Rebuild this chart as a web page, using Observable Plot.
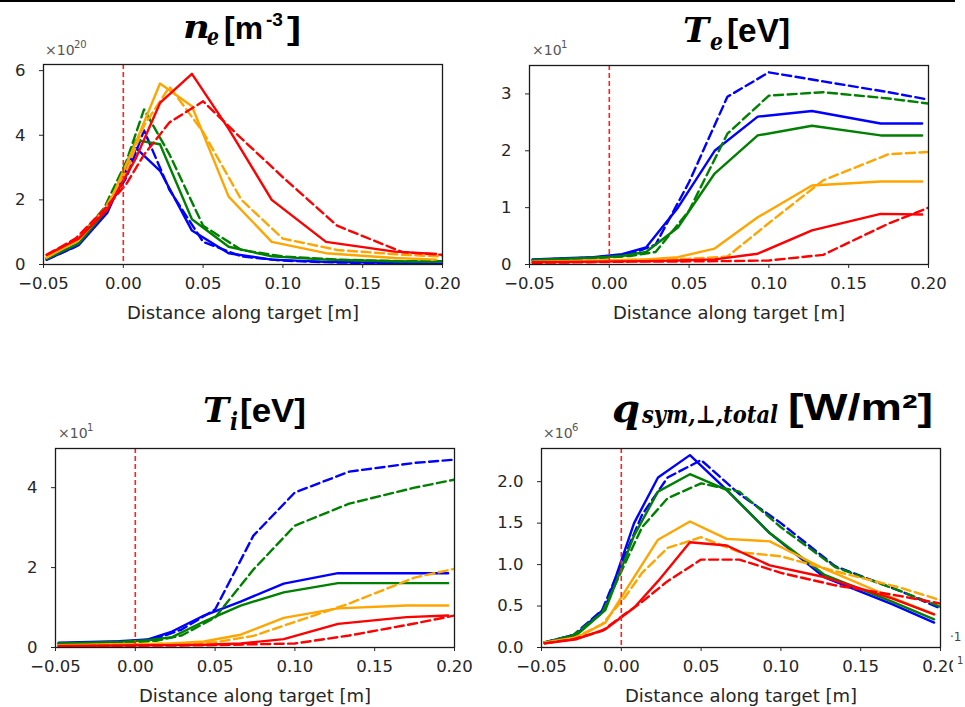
<!DOCTYPE html>
<html>
<head>
<meta charset="utf-8">
<script src="https://cdn.jsdelivr.net/npm/d3@7"></script>
<script src="https://cdn.jsdelivr.net/npm/@observablehq/plot@0.6"></script>
<style>
  html, body { margin: 0; padding: 0; background: #fff; }
  #root { position: relative; width: 965px; height: 707px; overflow: hidden; background: #fff; }
  .panel { position: absolute; overflow: hidden; }
  .panel svg { max-width: none !important; }
  #overlay { position: absolute; left: 0; top: 0; pointer-events: none; }
</style>
</head>
<body>
<div id="root"></div>
<script>
// ---------- shared x grids (distance along target, m) ----------
const xSolid  = [-0.048, -0.028, -0.010, 0.008, 0.023, 0.043, 0.066, 0.093, 0.127, 0.170, 0.196];
const xDashed = [-0.048, -0.030, -0.012, 0.002, 0.013, 0.029, 0.050, 0.074, 0.100, 0.134, 0.175, 0.200];
const xTicks = [-0.05, 0, 0.05, 0.10, 0.15, 0.20];
const colors = {blue: "#0000ff", green: "#008000", orange: "#ffa500", red: "#ff0000"};

// ---------- n_e  (x 1e20 m^-3) ----------
const neBlueSolid    = [0.15, 0.6, 1.6, 3.6, 2.9, 1.05, 0.35, 0.15, 0.08, 0.05, 0.04];
const neBlueDashed   = [0.15, 0.55, 1.55, 2.7, 4.15, 2.3, 0.7, 0.25, 0.12, 0.06, 0.04, 0.03];
const neGreenSolid   = [0.18, 0.65, 1.7, 3.85, 3.72, 1.4, 0.55, 0.25, 0.15, 0.1, 0.08];
const neGreenDashed  = [0.2, 0.7, 1.75, 3.2, 4.8, 3.4, 1.2, 0.45, 0.25, 0.15, 0.1, 0.1];
const neOrangeSolid  = [0.22, 0.75, 1.75, 3.8, 5.6, 4.9, 2.1, 0.7, 0.35, 0.2, 0.15];
const neOrangeDashed = [0.22, 0.75, 1.7, 2.9, 4.3, 5.5, 4.1, 2.0, 0.8, 0.45, 0.3, 0.25];
const neRedSolid     = [0.3, 0.8, 1.7, 3.3, 5.0, 5.9, 4.2, 2.0, 0.7, 0.4, 0.33];
const neRedDashed    = [0.3, 0.8, 1.7, 2.5, 3.4, 4.4, 5.05, 3.9, 2.7, 1.2, 0.38, 0.3];

// ---------- T_e  (x 10 eV) ----------
const teBlueSolid    = [0.09, 0.11, 0.13, 0.18, 0.3, 1.0, 2.0, 2.6, 2.7, 2.48, 2.48];
const teBlueDashed   = [0.08, 0.1, 0.12, 0.15, 0.18, 0.35, 1.45, 2.95, 3.38, 3.22, 3.03, 2.9];
const teGreenSolid   = [0.08, 0.1, 0.12, 0.15, 0.22, 0.65, 1.6, 2.27, 2.44, 2.27, 2.27];
const teGreenDashed  = [0.07, 0.09, 0.11, 0.13, 0.15, 0.22, 0.95, 2.3, 2.97, 3.03, 2.92, 2.83];
const teOrangeSolid  = [0.05, 0.06, 0.07, 0.08, 0.09, 0.13, 0.28, 0.83, 1.39, 1.46, 1.46];
const teOrangeDashed = [0.04, 0.05, 0.06, 0.07, 0.08, 0.09, 0.1, 0.14, 0.73, 1.48, 1.94, 1.98];
const teRedSolid     = [0.04, 0.045, 0.05, 0.055, 0.06, 0.07, 0.09, 0.19, 0.6, 0.89, 0.88];
const teRedDashed    = [0.03, 0.035, 0.04, 0.045, 0.05, 0.05, 0.055, 0.06, 0.07, 0.17, 0.72, 1.0];

// ---------- T_i  (x 10 eV) ----------
const tiBlueSolid    = [0.12, 0.14, 0.16, 0.2, 0.4, 0.8, 1.15, 1.6, 1.86, 1.86, 1.86];
const tiBlueDashed   = [0.1, 0.12, 0.14, 0.17, 0.22, 0.45, 0.95, 2.8, 3.88, 4.4, 4.62, 4.7];
const tiGreenSolid   = [0.1, 0.12, 0.14, 0.18, 0.26, 0.65, 1.05, 1.38, 1.61, 1.61, 1.61];
const tiGreenDashed  = [0.09, 0.1, 0.12, 0.14, 0.17, 0.3, 0.75, 1.95, 3.05, 3.6, 4.0, 4.2];
const tiOrangeSolid  = [0.06, 0.07, 0.08, 0.09, 0.1, 0.15, 0.32, 0.74, 0.98, 1.05, 1.05];
const tiOrangeDashed = [0.05, 0.06, 0.07, 0.08, 0.09, 0.1, 0.13, 0.29, 0.64, 1.1, 1.75, 1.97];
const tiRedSolid     = [0.04, 0.045, 0.05, 0.055, 0.06, 0.07, 0.1, 0.21, 0.59, 0.76, 0.8];
const tiRedDashed    = [0.03, 0.035, 0.04, 0.045, 0.05, 0.05, 0.06, 0.08, 0.1, 0.3, 0.6, 0.8];

// ---------- q_sym,perp,total  (x 1e6 W/m^2) ----------
const qBlueSolid     = [0.06, 0.16, 0.48, 1.5, 2.05, 2.32, 1.9, 1.38, 0.85, 0.52, 0.3];
const qBlueDashed    = [0.06, 0.15, 0.45, 1.1, 1.6, 2.05, 2.26, 1.85, 1.5, 0.98, 0.68, 0.47];
const qGreenSolid    = [0.06, 0.15, 0.45, 1.35, 1.88, 2.09, 1.9, 1.38, 0.88, 0.55, 0.34];
const qGreenDashed   = [0.06, 0.15, 0.42, 1.0, 1.45, 1.8, 1.98, 1.88, 1.45, 0.97, 0.68, 0.49];
const qOrangeSolid   = [0.06, 0.12, 0.3, 0.85, 1.3, 1.52, 1.31, 1.28, 0.95, 0.6, 0.4];
const qOrangeDashed  = [0.05, 0.11, 0.28, 0.6, 0.9, 1.2, 1.33, 1.15, 1.1, 0.92, 0.72, 0.57];
const qRedSolid      = [0.05, 0.1, 0.22, 0.48, 0.8, 1.27, 1.23, 0.99, 0.85, 0.59, 0.4];
const qRedDashed     = [0.05, 0.1, 0.2, 0.4, 0.55, 0.8, 1.06, 1.06, 0.9, 0.75, 0.62, 0.53];

// ---------- y tick labels ----------
const neYTicks = [0, 2, 4, 6];
const teYTicks = [0, 1, 2, 3];
const tiYTicks = [0, 2, 4];
const qYTicks  = [0, 0.5, 1.0, 1.5, 2.0];

const panels = [
  {left: 0, top: 40, width: 470, height: 300, ml: 43, mr: 28, mt: 24, mb: 76, clipW: 470,
   yDomain: [0, 6.19], yTicks: neYTicks, yFmt: d => d.toFixed(0),
   lines: [[neBlueSolid, "blue", false], [neBlueDashed, "blue", true],
           [neGreenSolid, "green", false], [neGreenDashed, "green", true],
           [neOrangeSolid, "orange", false], [neOrangeDashed, "orange", true],
           [neRedSolid, "red", false], [neRedDashed, "red", true]]},
  {left: 485, top: 40, width: 470, height: 300, ml: 44, mr: 27, mt: 25, mb: 76, clipW: 470,
   yDomain: [0, 3.5], yTicks: teYTicks, yFmt: d => d.toFixed(0),
   lines: [[teBlueSolid, "blue", false], [teBlueDashed, "blue", true],
           [teGreenSolid, "green", false], [teGreenDashed, "green", true],
           [teOrangeSolid, "orange", false], [teOrangeDashed, "orange", true],
           [teRedSolid, "red", false], [teRedDashed, "red", true]]},
  {left: 0, top: 420, width: 480, height: 287, ml: 55, mr: 26, mt: 28, mb: 60, clipW: 480,
   yDomain: [0, 4.98], yTicks: tiYTicks, yFmt: d => d.toFixed(0),
   lines: [[tiBlueSolid, "blue", false], [tiBlueDashed, "blue", true],
           [tiGreenSolid, "green", false], [tiGreenDashed, "green", true],
           [tiOrangeSolid, "orange", false], [tiOrangeDashed, "orange", true],
           [tiRedSolid, "red", false], [tiRedDashed, "red", true]]},
  {left: 485, top: 420, width: 480, height: 287, ml: 56, mr: 25, mt: 28, mb: 60, clipW: 468,
   yDomain: [0, 2.4], yTicks: qYTicks, yFmt: d => d.toFixed(1),
   lines: [[qBlueSolid, "blue", false], [qBlueDashed, "blue", true],
           [qGreenSolid, "green", false], [qGreenDashed, "green", true],
           [qOrangeSolid, "orange", false], [qOrangeDashed, "orange", true],
           [qRedSolid, "red", false], [qRedDashed, "red", true]]}
];

const xFmt = d => (d < 0 ? "\u2212" : "") + Math.abs(d).toFixed(2);
const root = document.getElementById("root");

for (const p of panels) {
  const marks = [];
  for (const [vals, c, dashed] of p.lines) {
    const xs = dashed ? xDashed : xSolid;
    const data = vals.map((v, i) => ({x: xs[i], y: v}));
    marks.push(Plot.line(data, {
      x: "x", y: "y", stroke: colors[c], strokeWidth: 2.4,
      strokeDasharray: dashed ? "9,4.5" : null, clip: true
    }));
  }
  marks.push(Plot.ruleX([0], {stroke: "#ff2020", strokeWidth: 1.6, strokeDasharray: "5,3"}));
  marks.push(Plot.frame({stroke: "#1a1a1a", strokeWidth: 1.3}));
  marks.push(Plot.axisX({ticks: xTicks, tickFormat: xFmt, tickSize: 4, tickPadding: 9,
    fontSize: 16.5, label: null}));
  marks.push(Plot.axisX({ticks: [], tickSize: 0, fontSize: 18, fill: "#262626",
    label: "Distance along target [m]", labelAnchor: "center",
    labelArrow: "none", labelOffset: 54}));
  marks.push(Plot.axisY({ticks: p.yTicks, tickFormat: p.yFmt, tickSize: 4, tickPadding: 14,
    fontSize: 16.5, label: null}));
  const svg = Plot.plot({
    width: p.width, height: p.height,
    marginLeft: p.ml, marginRight: p.mr, marginTop: p.mt, marginBottom: p.mb,
    x: {domain: [-0.05, 0.2]},
    y: {domain: p.yDomain},
    style: {fontFamily: "DejaVu Sans", fontSize: "16.5px", color: "#262626", background: "transparent", overflow: "visible"},
    marks
  });
  svg.style.maxWidth = "none";
  svg.style.width = p.width + "px";
  svg.style.height = p.height + "px";
  const wrap = document.createElement("div");
  wrap.className = "panel";
  wrap.style.left = p.left + "px";
  wrap.style.top = p.top + "px";
  wrap.style.width = p.clipW + "px";
  wrap.style.height = p.height + "px";
  wrap.appendChild(svg);
  root.appendChild(wrap);
}

// ---------- overlay: titles, scale factors ----------
const NS = "http://www.w3.org/2000/svg";
const ov = document.createElementNS(NS, "svg");
ov.setAttribute("id", "overlay");
ov.setAttribute("width", 965);
ov.setAttribute("height", 707);
root.appendChild(ov);

function txt(s, x, y, o = {}) {
  const t = document.createElementNS(NS, "text");
  t.textContent = s;
  t.setAttribute("x", x);
  t.setAttribute("y", y);
  t.setAttribute("font-family", o.family || "Liberation Sans");
  t.setAttribute("font-size", o.size || 14);
  t.setAttribute("fill", o.fill || "#000");
  if (o.bold) t.setAttribute("font-weight", "bold");
  if (o.italic) t.setAttribute("font-style", "italic");
  if (o.w) { t.setAttribute("textLength", o.w); t.setAttribute("lengthAdjust", "spacingAndGlyphs"); }
  ov.appendChild(t);
}
const M = {family: "DejaVu Serif", bold: true, italic: true};
const S = {family: "Liberation Sans", bold: true};

const line = document.createElementNS(NS, "line");
line.setAttribute("x1", 0); line.setAttribute("x2", 955);
line.setAttribute("y1", 1); line.setAttribute("y2", 1);
line.setAttribute("stroke", "#000"); line.setAttribute("stroke-width", 2);
ov.appendChild(line);

// n_e [m^-3]
txt("n", 183, 38, {...M, size: 31, w: 27});
txt("e", 207, 45, {...M, size: 24, w: 12});
txt("[m", 224, 39, {...S, size: 32, w: 39});
txt("-3", 266, 26, {...S, size: 18, w: 17});
txt("]", 287, 39, {...S, size: 32, w: 14});
// T_e [eV]
txt("T", 683, 42, {...M, size: 33, w: 26});
txt("e", 710, 50, {...M, size: 25, w: 13});
txt("[eV]", 727, 42, {...S, size: 34, w: 63});
// T_i [eV]
txt("T", 203, 422, {...M, size: 33, w: 26});
txt("i", 230, 430, {...M, size: 25, w: 8});
txt("[eV]", 240, 422, {...S, size: 34, w: 66});
// q_sym,perp,total [W/m2]
txt("q", 612, 422, {...M, size: 40, w: 28});
txt("sym,\u22a5,total", 642, 423, {...M, size: 25, w: 136});
txt("[W/m\u00b2]", 788, 420, {...S, size: 36, w: 145});

// scale-factor labels
const G = {family: "DejaVu Sans", fill: "#555"};
function factor(x, y, exp) {
  txt("\u00d710", x, y, {...G, size: 14});
  txt(exp, x + 29, y - 7, {...G, size: 10});
}
factor(45, 55, "20");
factor(532, 55, "1");
factor(58, 438, "1");
factor(543, 438, "6");

// cropped fragments at the right edge
txt("\u00b71", 950, 641, {...G, size: 12, fill: "#444"});
txt("1", 957, 664, {...G, size: 10, fill: "#444"});
</script>
</body>
</html>
